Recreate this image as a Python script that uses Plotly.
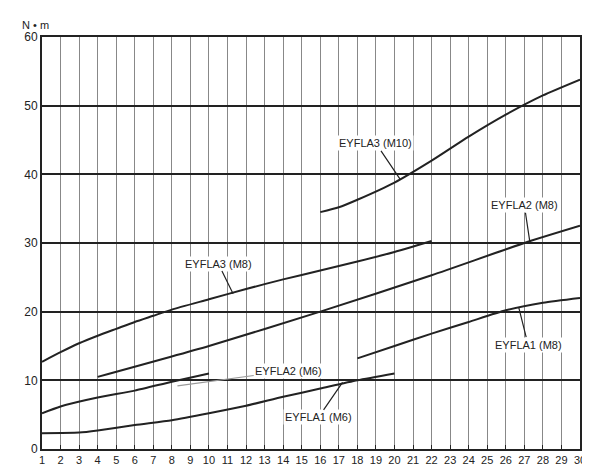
import plotly.graph_objects as go

x_a3m8 = [1, 2, 3, 4, 5, 6, 7, 8, 10, 12, 14, 16, 18, 20, 22]
y_a3m8 = [12.7, 14.1, 15.4, 16.5, 17.5, 18.5, 19.4, 20.3, 21.8, 23.3, 24.7, 26.0, 27.3, 28.7, 30.3]
x_a2m8 = [4, 10, 16, 22, 27, 30]
y_a2m8 = [10.5, 15.0, 20.0, 25.3, 30.0, 32.5]
x_a3m10 = [16, 17, 18, 20, 22, 24, 26, 28, 30]
y_a3m10 = [34.5, 35.2, 36.3, 38.8, 42.0, 45.5, 48.7, 51.5, 53.8]
x_a1m8 = [18, 20, 22, 24, 26, 28, 30]
y_a1m8 = [13.2, 15.0, 16.8, 18.5, 20.2, 21.3, 22.0]
x_a2m6 = [1, 2, 4, 6, 8, 10]
y_a2m6 = [5.2, 6.2, 7.5, 8.5, 9.8, 11.0]
x_a1m6 = [1, 3, 4, 6, 8, 10, 12, 14, 16, 18, 20]
y_a1m6 = [2.3, 2.4, 2.7, 3.5, 4.2, 5.2, 6.3, 7.6, 8.8, 10.0, 11.0]
x_ticks = list(range(1, 31))
y_ticks = [0, 10, 20, 30, 40, 50, 60]

fig = go.Figure()
for xs, ys in [(x_a3m8, y_a3m8), (x_a2m8, y_a2m8), (x_a3m10, y_a3m10),
               (x_a1m8, y_a1m8), (x_a2m6, y_a2m6), (x_a1m6, y_a1m6)]:
    fig.add_trace(go.Scatter(x=xs, y=ys, mode="lines",
                             line=dict(color="#222", width=2, shape="spline", smoothing=0.6),
                             showlegend=False, hoverinfo="skip"))

labels = [
    ("EYFLA3 (M10)", 20.3, 39.3, 19.0, 44.5, "#222"),
    ("EYFLA3 (M8)", 11.3, 22.6, 10.5, 27.0, "#222"),
    ("EYFLA2 (M8)", 27.3, 30.1, 27.0, 35.5, "#222"),
    ("EYFLA1 (M8)", 26.7, 20.6, 27.2, 15.2, "#222"),
    ("EYFLA2 (M6)", 8.3, 9.2, 14.3, 11.4, "#999"),
    ("EYFLA1 (M6)", 17.2, 9.7, 15.9, 4.6, "#222"),
]
for t, px, py, tx, ty, c in labels:
    fig.add_annotation(x=px, y=py, ax=tx, ay=ty, axref="x", ayref="y", xref="x", yref="y",
                       text=t, showarrow=True, arrowhead=0, arrowwidth=1.2, arrowcolor=c,
                       font=dict(size=11, color="#222", family="Liberation Sans"),
                       bgcolor="white", borderpad=1)

fig.add_annotation(x=0, y=1, xref="paper", yref="paper", xanchor="left", yanchor="bottom",
                   xshift=-22, yshift=4, text="N • m", showarrow=False,
                   font=dict(size=11, color="#222", family="Liberation Sans"))

fig.update_xaxes(range=[1, 30], tickmode="array", tickvals=x_ticks, ticktext=[str(v) for v in x_ticks],
                 showgrid=True, gridcolor="#888", gridwidth=1.2, showline=True, linecolor="#222",
                 linewidth=2, mirror=True, ticks="inside", ticklen=4, tickcolor="#222", zeroline=False,
                 tickfont=dict(size=11, color="#222", family="Liberation Sans"))
fig.update_yaxes(range=[0, 60], tickmode="array", tickvals=y_ticks, showgrid=True, gridcolor="#222",
                 gridwidth=1.5, showline=True, linecolor="#222", linewidth=2, mirror=True,
                 ticks="", zeroline=False, tickfont=dict(size=12, color="#222", family="Liberation Sans"))
fig.update_layout(width=590, height=470, plot_bgcolor="white", paper_bgcolor="white",
                  margin=dict(l=34, r=12, t=29, b=24))
fig.write_html("out.html")
